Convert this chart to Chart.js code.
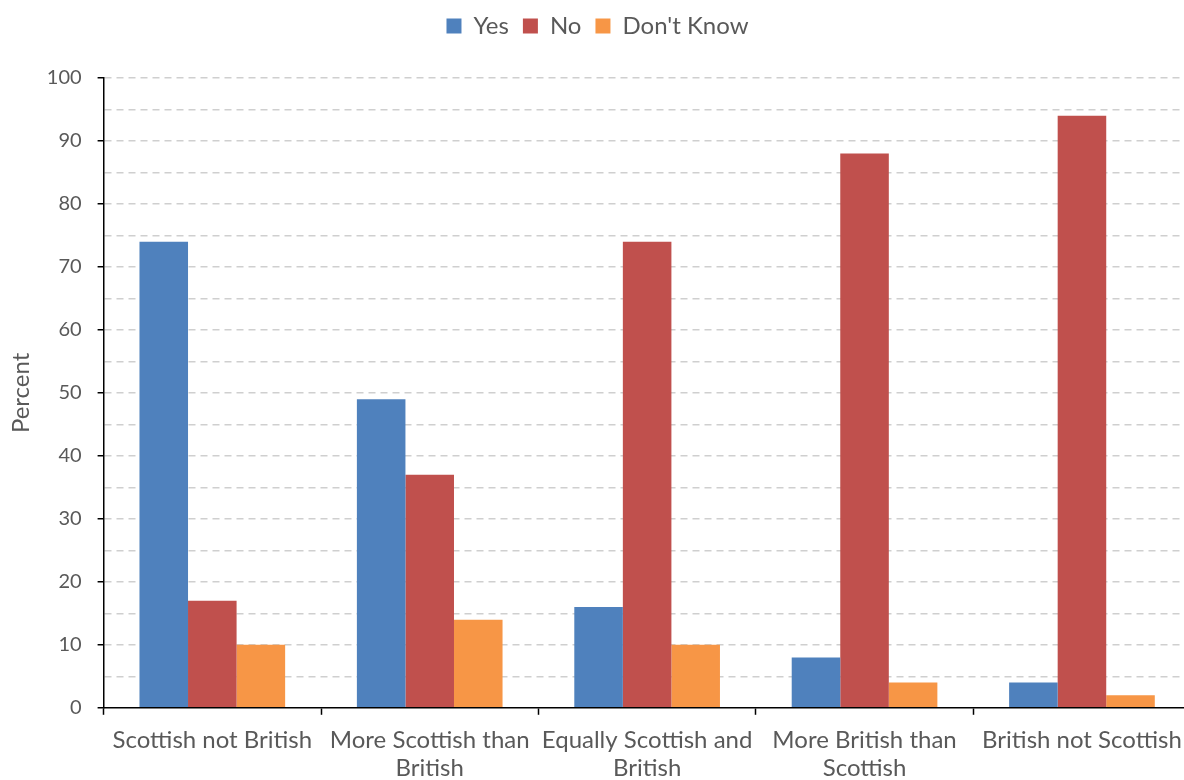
<!DOCTYPE html>
<html>
<head>
<meta charset="utf-8">
<script src="https://cdn.jsdelivr.net/npm/chart.js@4"></script>
<style>
  html, body { margin: 0; padding: 0; background: #fff; overflow: hidden; }
  #wrap { width: 1194px; height: 782px; }
</style>
</head>
<body>
<div id="wrap"><canvas id="chart"></canvas></div>
<script>
// Identity categories (wrapped as they show on the axis)
const categories = [
    'Scottish not British',
    ['More Scottish than', 'British'],
    ['Equally Scottish and', 'British'],
    ['More British than', 'Scottish'],
    'British not Scottish'
];

// Percent answering each way
const yesData = [74, 49, 16, 8, 4];
const noData = [17, 37, 74, 88, 94];
const dontKnowData = [10, 14, 10, 4, 2];

const textColor = '#595959';
const fontFamily = 'Lato, "Open Sans", sans-serif';

// make the legend take up the whole band above the plot
const legendSpacer = {
    id: 'legendSpacer',
    beforeInit(chart) {
        const fit = chart.legend.fit;
        chart.legend.fit = function() {
            fit.call(this);
            this.height = 78;
        };
    }
};

const ctx = document.getElementById('chart').getContext('2d');
new Chart(ctx, {
    type: 'bar',
    data: {
        labels: categories,
        datasets: [
            { label: 'Yes', data: yesData, backgroundColor: '#4F81BD' },
            { label: 'No', data: noData, backgroundColor: '#C0504D' },
            { label: "Don't Know", data: dontKnowData, backgroundColor: '#F79646' },
        ],
    },
    plugins: [legendSpacer],
    options: {
        responsive: true,
        maintainAspectRatio: false,
        animation: false,
        datasets: {
            bar: { categoryPercentage: 0.67, barPercentage: 1.0 }
        },
        layout: { padding: { left: 3, right: 2, top: 0, bottom: -12 } },
        plugins: {
            tooltip: { enabled: false },
            legend: {
                position: 'top',
                labels: {
                    color: textColor,
                    font: { family: fontFamily, size: 24 },
                    boxWidth: 15,
                    boxHeight: 15,
                    padding: 14,
                },
            },
        },
        scales: {
            x: {
                grid: {
                    offset: true,
                    drawOnChartArea: false,
                    tickColor: '#000',
                    tickLength: 7,
                    tickWidth: 1.5,
                },
                border: { color: '#000', width: 1.5 },
                ticks: {
                    color: textColor,
                    font: { family: fontFamily, size: 24, lineHeight: 1.15 },
                    maxRotation: 0,
                    autoSkip: false,
                    padding: 12,
                },
            },
            y: {
                min: 0,
                max: 100,
                title: {
                    display: true,
                    text: 'Percent',
                    color: textColor,
                    font: { family: fontFamily, size: 24 },
                    padding: { top: 4, bottom: -5 },
                },
                grid: {
                    color: function(c) {
                        return c.tick.value === 0 ? 'rgba(0,0,0,0)' : '#cfcfcf';
                    },
                    lineWidth: 1.5,
                    tickColor: function(c) {
                        return c.tick.value % 10 === 0 ? '#000' : 'rgba(0,0,0,0)';
                    },
                    tickLength: 6,
                    tickWidth: 1.5,
                },
                border: { color: '#000', width: 1.5, dash: [7, 5] },
                ticks: {
                    stepSize: 5,
                    color: textColor,
                    font: { family: fontFamily, size: 20 },
                    padding: 16,
                    callback: function(value) {
                        return value % 10 === 0 ? value : '';
                    },
                },
            },
        },
    },
});
</script>
</body>
</html>
